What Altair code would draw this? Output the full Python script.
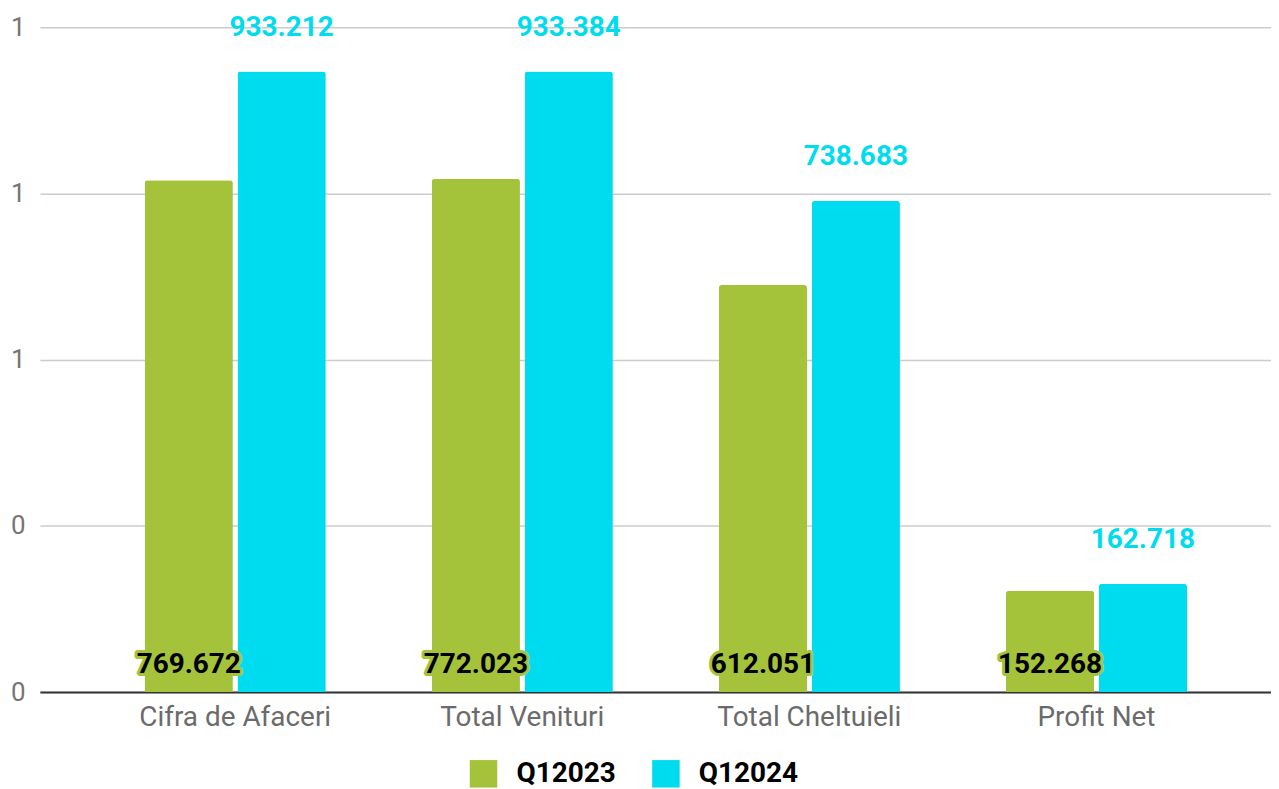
import altair as alt
import pandas as pd

categories = ["Cifra de Afaceri", "Total Venituri", "Total Cheltuieli", "Profit Net"]
series = ["Q12023", "Q12024"]
q2023 = [769.672, 772.023, 612.051, 152.268]
q2024 = [933.212, 933.384, 738.683, 162.718]
y_ticks = [0, 250, 500, 750, 1000]

rows = []
for c, a, b in zip(categories, q2023, q2024):
    rows.append({"cat": c, "series": series[0], "value": a})
    rows.append({"cat": c, "series": series[1], "value": b})
df = pd.DataFrame(rows)

GREEN = "#A4C33A"
CYAN = "#00DCEF"

x = alt.X(
    "cat:N",
    sort=categories,
    title=None,
    scale=alt.Scale(paddingInner=0.369, paddingOuter=0.3286, align=0.555),
    axis=alt.Axis(
        labelAngle=0,
        labelFontSize=28,
        labelColor="#6b6b6b",
        labelPadding=12,
        labelLimit=0,
        ticks=False,
        domainColor="#333333",
        domainWidth=2,
        grid=False,
    ),
)
xoff = alt.XOffset("series:N", sort=series, scale=alt.Scale(paddingInner=0.05))
y = alt.Y(
    "value:Q",
    scale=alt.Scale(domain=[0, 1000], nice=False),
    axis=alt.Axis(
        values=y_ticks,
        labelExpr="format(round(datum.value/1000),'d')",
        title=None,
        domain=False,
        ticks=False,
        labelPadding=15,
        labelFontSize=26,
        labelColor="#757575",
        gridColor="#cccccc",
        gridWidth=1.5,
    ),
)

base = alt.Chart(df)

bars = base.mark_bar(cornerRadiusTopLeft=3, cornerRadiusTopRight=3).encode(
    x=x,
    xOffset=xoff,
    y=y,
    color=alt.Color(
        "series:N",
        sort=series,
        scale=alt.Scale(domain=series, range=[GREEN, CYAN]),
        legend=alt.Legend(
            title=None,
            orient="none",
            legendX=431,
            legendY=735,
            direction="horizontal",
            symbolType="square",
            symbolSize=760,
            symbolStrokeWidth=0,
            labelFontSize=28,
            labelFontWeight="bold",
            labelColor="black",
            labelOffset=19,
            columnPadding=36,
        ),
    ),
)

top_labels = (
    base.transform_filter(alt.datum.series == series[1])
    .mark_text(fontSize=28, fontWeight="bold", color=CYAN, dy=-44, baseline="middle")
    .encode(x=x, xOffset=xoff, y=y, text=alt.Text("value:Q", format=".3f"))
)

halo = (
    base.transform_filter(alt.datum.series == series[0])
    .mark_text(
        fontSize=28,
        fontWeight="bold",
        color=GREEN,
        stroke=GREEN,
        strokeWidth=6,
        strokeJoin="round",
        dy=-27,
        baseline="middle",
    )
    .encode(x=x, xOffset=xoff, y=alt.datum(0), text=alt.Text("value:Q", format=".3f"))
)

low_labels = (
    base.transform_filter(alt.datum.series == series[0])
    .mark_text(fontSize=28, fontWeight="bold", color="black", dy=-27, baseline="middle")
    .encode(x=x, xOffset=xoff, y=alt.datum(0), text=alt.Text("value:Q", format=".3f"))
)

chart = (
    alt.layer(bars, top_labels, halo, low_labels)
    .properties(
        width=1235,
        height=667,
        padding={"left": 32, "top": 18, "right": 0, "bottom": 96},
        autosize="none",
    )
    .configure(font="Roboto")
    .configure_view(stroke=None)
)

chart.save("out.html", embed_options={"renderer": "svg", "actions": False})
